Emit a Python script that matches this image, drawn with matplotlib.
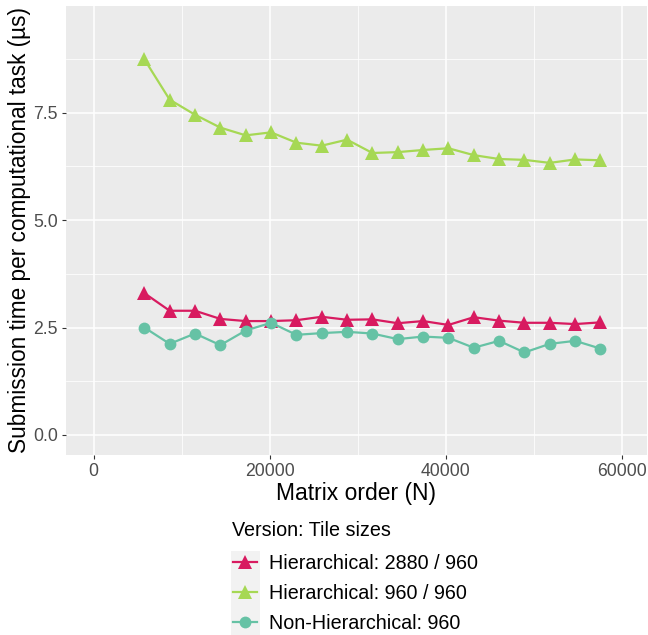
import numpy as np
import matplotlib
matplotlib.use('Agg')
from matplotlib import pyplot as plt
from matplotlib.patches import Rectangle

plt.rcParams['font.family'] = ['Liberation Sans', 'DejaVu Sans']

# matrix order (N), step 2880
order = [5760, 8640, 11520, 14400, 17280, 20160, 23040, 25920, 28800, 31680,
         34560, 37440, 40320, 43200, 46080, 48960, 51840, 54720, 57600]

hier_2880 = [3.30, 2.89, 2.89, 2.70, 2.65, 2.65, 2.67, 2.75, 2.68, 2.69,
             2.60, 2.65, 2.56, 2.74, 2.66, 2.61, 2.61, 2.58, 2.62]
hier_960 = [8.74, 7.80, 7.45, 7.15, 6.97, 7.04, 6.80, 6.73, 6.87, 6.56,
            6.58, 6.63, 6.67, 6.51, 6.42, 6.40, 6.33, 6.41, 6.39]
non_hier = [2.50, 2.12, 2.36, 2.09, 2.43, 2.61, 2.33, 2.37, 2.40, 2.36,
            2.23, 2.29, 2.26, 2.03, 2.19, 1.92, 2.12, 2.19, 2.01]

labels = ['Hierarchical: 2880 / 960', 'Hierarchical: 960 / 960', 'Non-Hierarchical: 960']
colors = ['#D81B60', '#A6D854', '#66C2A5']
markers = ['^', '^', 'o']

xticks = [0, 20000, 40000, 60000]
yticks = [0.0, 2.5, 5.0, 7.5]

fig = plt.figure(figsize=(6.48, 6.35), dpi=100)
ax = fig.add_axes([0.1019, 0.2835, 0.896, 0.7071])
ax.set_facecolor('#EBEBEB')
for s in ax.spines.values():
    s.set_visible(False)

# grid (major + minor like ggplot)
ax.set_xticks(xticks)
ax.set_yticks(yticks)
ax.set_xticks([10000, 30000, 50000], minor=True)
ax.set_yticks([1.25, 3.75, 6.25, 8.75], minor=True)
ax.grid(which='major', color='white', linewidth=1.1)
ax.grid(which='minor', color='white', linewidth=0.55)
ax.set_axisbelow(True)
ax.tick_params(which='minor', length=0)
ax.tick_params(which='major', length=3, color='#333333', width=0.8,
               labelsize=12.7, labelcolor='#4D4D4D', pad=3)
ax.set_yticklabels(['0.0', '2.5', '5.0', '7.5'])

handles = []
for ys, c, m, lab in zip([hier_2880, hier_960, non_hier], colors, markers, labels):
    ms = 9.5 if m == '^' else 8.5
    h, = ax.plot(order, ys, color=c, marker=m, markersize=ms, linewidth=1.6,
                 markeredgewidth=0, label=lab)
    handles.append(h)

ax.set_xlim(-3140, 62850)
ax.set_ylim(-0.465, 9.98)

ax.set_xlabel('Matrix order (N)', fontsize=16.5, labelpad=1)
ax.set_ylabel('Submission time per computational task (µs)', fontsize=16.3, labelpad=1)

# legend key backgrounds
for i in range(3):
    fig.patches.append(Rectangle((231 / 648, 1 - (551 + 28.5 * (i + 1)) / 635),
                                 29 / 648, 28.5 / 635, transform=fig.transFigure,
                                 facecolor='#F2F2F2', edgecolor='none', zorder=0))

fig.text(232 / 648, 1 - 531 / 635, 'Version: Tile sizes', fontsize=14.2,
         ha='left', va='center')

leg = fig.legend(handles=handles, labels=labels,
                 loc='center left', bbox_to_anchor=(233 / 648, 1 - 593.5 / 635),
                 frameon=False, fontsize=14.2, borderpad=0, borderaxespad=0,
                 handlelength=1.2, handletextpad=0.65, labelspacing=0.55)

fig.savefig('out.png', dpi=100)
